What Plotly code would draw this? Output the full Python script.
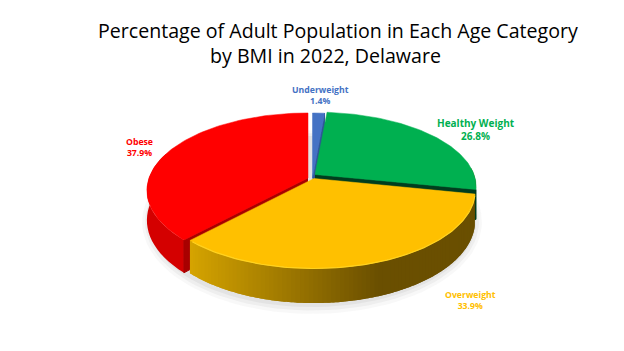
import numpy as np
import plotly.graph_objects as go

categories = ["Underweight", "Healthy Weight", "Overweight", "Obese"]
values = [1.4, 26.8, 33.9, 37.9]
colors = ["#4472C4", "#00B050", "#FFC000", "#FF0000"]
title_lines = ["Percentage of Adult Population in Each Age Category", "by BMI in 2022, Delaware"]

# projection of the tilted pie (screen pixels)
B, A, K, DEPTH = 159.0, 75.5, 0.161, 29.0
centers = {"Underweight": (312.5, 178), "Healthy Weight": (315, 174.5),
           "Overweight": (314, 178.5), "Obese": (308, 178)}
y_scale = {"Underweight": 1.0, "Healthy Weight": 0.96, "Overweight": 1.0, "Obese": 1.0}
label_pos = {"Underweight": (320, 95), "Healthy Weight": (476, 129),
             "Overweight": (470, 300), "Obese": (139, 147)}
label_size = {"Underweight": 8.7, "Healthy Weight": 10, "Overweight": 8.7, "Obese": 8.7}


def project(theta, center, depth=0.0, ys=1.0):
    theta = np.asarray(theta, dtype=float)
    yf = -np.cos(theta)
    w = 1 - K * yf
    x = center[0] + B * np.sin(theta) / w
    y = center[1] + ys * A * yf / w + depth / w
    return x, y


def poly(fig, x, y, color, line=None, width=0):
    fig.add_trace(go.Scatter(x=list(x), y=list(y), mode="lines", fill="toself", fillcolor=color,
                             line=dict(color=line or color, width=width or 1),
                             hoverinfo="skip", showlegend=False))


def mix(c1, c2, t):
    return "rgb(%d,%d,%d)" % tuple(round(a + (b - a) * t) for a, b in zip(c1, c2))


cum = np.cumsum([0] + values) / sum(values) * 2 * np.pi
spans = {c: (cum[i], cum[i + 1]) for i, c in enumerate(categories)}
col = dict(zip(categories, colors))

fig = go.Figure()

# soft ground shadow
for grow, alpha in [(9, .05), (6, .07), (3, .09)]:
    t = np.linspace(0, 2 * np.pi, 120)
    x, y = project(t, (312, 178), depth=DEPTH + 1)
    cx, cy = x.mean(), y.mean()
    poly(fig, cx + (x - cx) * (1 + grow / 165), cy + (y - cy) * (1 + grow / 80),
         f"rgba(120,120,120,{alpha})", line="rgba(0,0,0,0)")


def top(fig, name):
    a, b = spans[name]
    c = centers[name]
    t = np.linspace(a, b, 90)
    x, y = project(t, c, ys=y_scale[name])
    fig.add_trace(go.Scatter(x=[c[0], *x, c[0]], y=[c[1], *y, c[1]], mode="lines", fill="toself",
                             fillcolor=col[name], line=dict(color=col[name], width=0.5),
                             hoverinfo="skip", showlegend=False))


def side(fig, name, a, b, shade, n=1):
    # each band runs on under the next one, so no seams show between bands
    c = centers[name]
    ts = np.linspace(a, b, n + 1)
    step = ts[1] - ts[0]
    ys = y_scale[name]
    bands = list(zip(ts[:-1], ts[1:]))
    for t0, t1 in bands[::-1]:
        tt = np.linspace(t0, min(t1 + step if n > 1 else t1, b), 24 if n == 1 else 5)
        x, y = project(tt, c, ys=ys)
        xb, yb = project(tt[::-1], c, depth=DEPTH, ys=ys)
        fig.add_trace(go.Scatter(x=[*x, *xb], y=[*y, *yb], mode="none", fill="toself",
                                 fillcolor=shade(x[:3].mean()), hoverinfo="skip", showlegend=False))


def cut(fig, name, theta, color):
    c = centers[name]
    x, y = project(theta, c, ys=y_scale[name])
    cx, cy = c
    poly(fig, [cx, x, x, cx], [cy, y, y + DEPTH / (1 + K * np.cos(theta)), cy + DEPTH * .97], color)


# red wedge
a, b = spans["Obese"]
side(fig, "Obese", a, 1.5 * np.pi + .35, lambda v: "#D40000")
cut(fig, "Obese", a, "#A80000")
top(fig, "Obese")

# blue wedge
a, b = spans["Underweight"]
cut(fig, "Underweight", b, "#2F5597")
top(fig, "Underweight")

# green wedge
a, b = spans["Healthy Weight"]
side(fig, "Healthy Weight", np.pi / 2 - .1, b, lambda v: "#5A4300")
cut(fig, "Healthy Weight", b, "#003D1E")
top(fig, "Healthy Weight")

# yellow wedge with gradient rim
a, b = spans["Overweight"]
side(fig, "Overweight", a, b,
     lambda v: mix((216, 166, 0), (106, 79, 0), min(max((v - 188) / 195, 0), 1)), 90)
top(fig, "Overweight")
t = np.linspace(a + .02, b - .02, 120)
x, y = project(t, centers["Overweight"])
fig.add_trace(go.Scatter(x=x, y=y, mode="lines", line=dict(color="#FFD21F", width=1.2),
                         hoverinfo="skip", showlegend=False))

annotations = []
for name, v, c in zip(categories, values, colors):
    lx, ly = label_pos[name]
    annotations.append(dict(x=lx, y=ly, xref="x", yref="y", showarrow=False, align="center",
                            text=f"<b>{name}<br>{v:.1f}%</b>",
                            font=dict(family="Open Sans", size=label_size[name], color=c)))
annotations.append(dict(x=338, y=30, xref="x", yref="y", showarrow=False, text=title_lines[0],
                        font=dict(family="Open Sans", size=19.6, color="#000000")))
annotations.append(dict(x=325.5, y=55, xref="x", yref="y", showarrow=False, text=title_lines[1],
                        font=dict(family="Open Sans", size=19.6, color="#000000")))

# the page keeps an 8 px body margin, so the axes start at 8 to keep pixel coordinates
fig.update_layout(width=616, height=343, margin=dict(l=0, r=0, t=0, b=0),
                  paper_bgcolor="white", plot_bgcolor="white", showlegend=False,
                  xaxis=dict(range=[8, 624], visible=False, fixedrange=True),
                  yaxis=dict(range=[351, 8], visible=False, fixedrange=True),
                  annotations=annotations)
fig.write_html("out.html", config=dict(displayModeBar=False))
